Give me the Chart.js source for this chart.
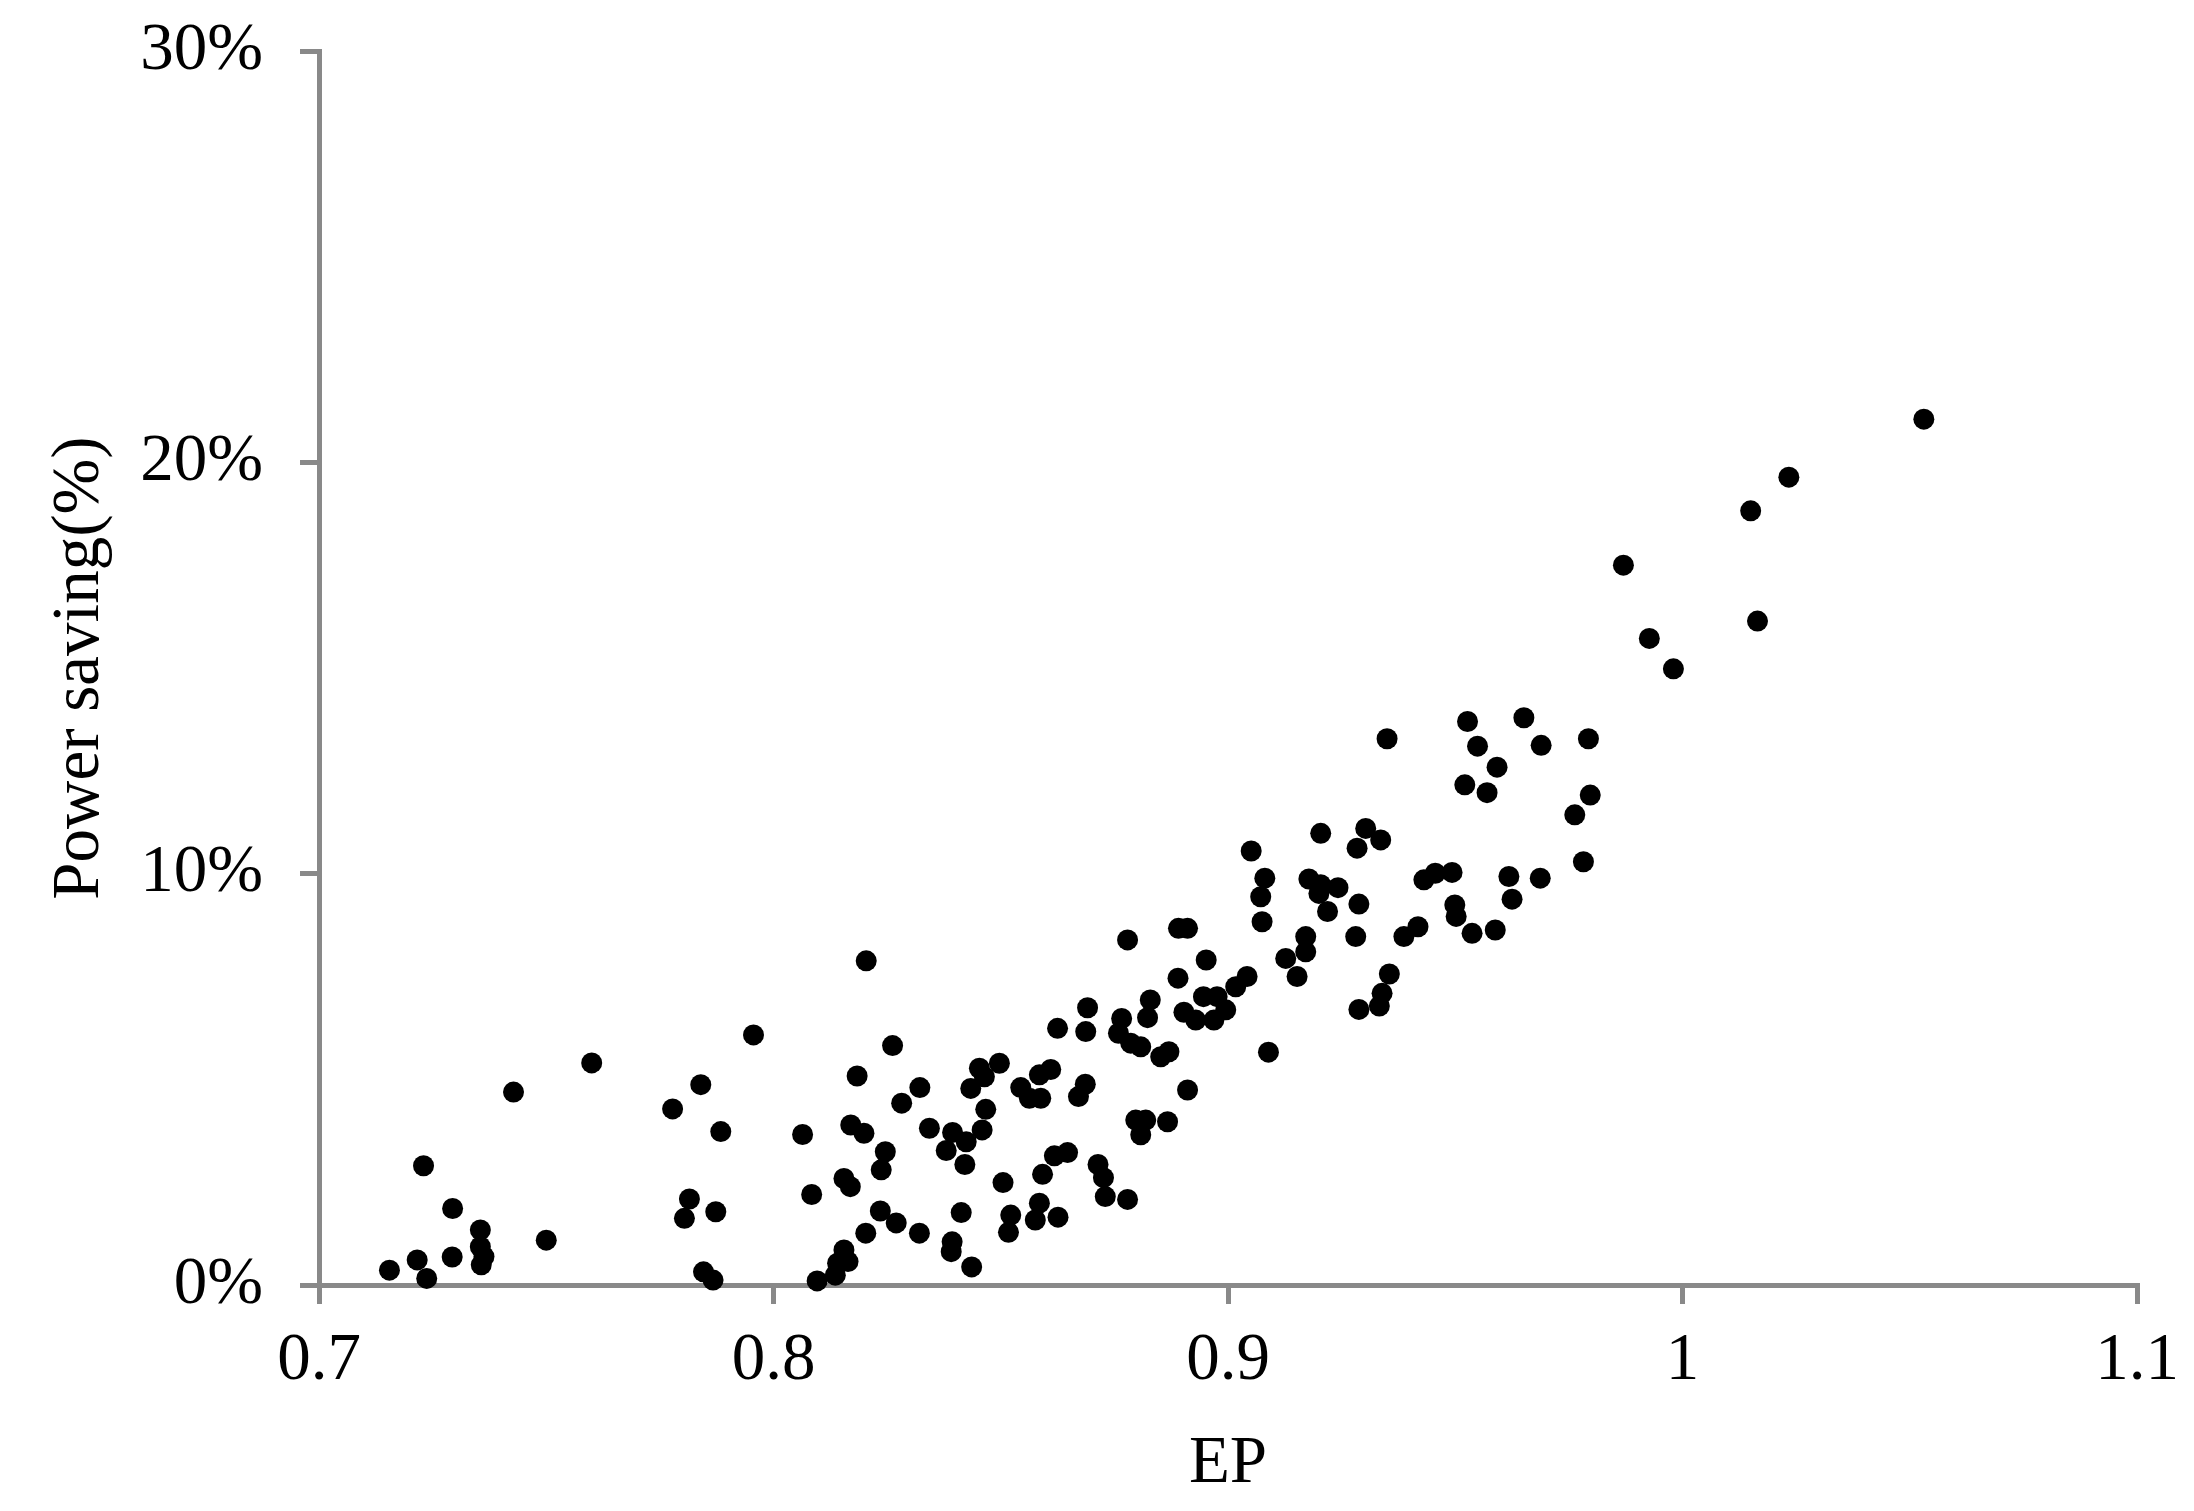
<!DOCTYPE html>
<html>
<head>
<meta charset="utf-8">
<title>Power saving vs EP</title>
<script src="https://cdn.jsdelivr.net/npm/chart.js@4.4.1/dist/chart.umd.min.js"></script>
<style>
  html, body { margin: 0; padding: 0; background: #fff; }
  canvas { display: block; }
</style>
</head>
<body>
<canvas id="chart" width="2194" height="1511"></canvas>
<script>
// EP (x) and power saving in % (y)
const ep = [
  0.7155, 0.7216, 0.7237, 0.7230, 0.7294, 0.7293, 0.7355, 0.7355, 0.7363, 0.7357,
  0.7428, 0.7500, 0.7600, 0.7778, 0.7840, 0.7884, 0.7956, 0.7815, 0.7804, 0.7873,
  0.7846, 0.7867,
  0.8064, 0.8084, 0.8096, 0.8136, 0.8155, 0.8164, 0.8141, 0.8184, 0.8170, 0.8199,
  0.8203, 0.8155, 0.8169,
  0.8204, 0.8262, 0.8322, 0.8282, 0.8246, 0.8237, 0.8235, 0.8270, 0.8321, 0.8413,
  0.8393, 0.8391, 0.8436, 0.8343, 0.8394, 0.8424, 0.8380, 0.8421, 0.8459, 0.8467,
  0.8434, 0.8453, 0.8497, 0.8464, 0.8505, 0.8522, 0.8517, 0.8585, 0.8576, 0.8626,
  0.8592, 0.8618, 0.8647, 0.8544, 0.8563, 0.8588, 0.8585, 0.8610, 0.8625, 0.8691,
  0.8687, 0.8671, 0.8686, 0.8714, 0.8726, 0.8730, 0.8779, 0.8779, 0.8766, 0.8759,
  0.8786, 0.8808, 0.8829, 0.8823, 0.8852, 0.8870, 0.8911, 0.8797, 0.8808, 0.8867,
  0.8819, 0.8891, 0.8911, 0.8890, 0.8952, 0.8946, 0.8976, 0.8995, 0.8903, 0.8929,
  0.8969, 0.9017, 0.9042, 0.9075, 0.9072, 0.9089, 0.9127, 0.9152, 0.9171, 0.9171,
  0.9521, 0.9570, 0.9797, 0.9763, 0.9782, 0.9204, 0.9303, 0.9336, 0.9284, 0.9051,
  0.9081, 0.9178, 0.9204, 0.9242, 0.9200, 0.9219, 0.9288, 0.9281, 0.9431, 0.9456,
  0.9493, 0.9618, 0.9687, 0.9625, 0.9499, 0.9502, 0.9537, 0.9588, 0.9387, 0.9418,
  0.9355, 0.9339, 0.9333, 0.9288,
  0.9350, 0.9527, 0.9651, 0.9549, 0.9689, 0.9793, 0.9592,
  1.0531, 1.0234, 1.0150, 0.9870, 1.0165, 0.9927, 0.9980
];

const saving = [
  0.36, 0.61, 0.16, 2.90, 1.86, 0.68, 1.34, 0.93, 0.69, 0.49,
  4.69, 1.09, 5.40, 4.28, 4.87, 3.73, 6.08, 2.09, 1.62, 1.78,
  0.32, 0.12,
  3.66, 2.20, 0.10, 0.24, 0.85, 0.57, 0.53, 5.08, 3.89, 3.69,
  1.26, 2.59, 2.39,
  7.88, 5.82, 4.80, 4.42, 3.24, 2.80, 1.80, 1.51, 1.26, 1.76,
  1.05, 0.81, 0.44, 3.81, 3.71, 3.48, 3.27, 2.93, 3.77, 4.27,
  4.78, 5.27, 5.39, 5.06, 2.49, 1.70, 1.28, 1.99, 1.58, 1.65,
  2.69, 3.14, 3.22, 4.80, 4.54, 4.54, 5.11, 5.24, 6.24, 6.74,
  6.16, 4.58, 4.88, 2.93, 2.61, 2.15, 2.08, 8.39, 6.48, 6.12,
  5.88, 5.79, 6.93, 6.50, 5.55, 5.67, 4.74, 4.01, 3.65, 3.97,
  4.01, 8.67, 8.67, 7.46, 7.90, 7.01, 7.01, 6.69, 6.63, 6.44,
  6.44, 7.25, 7.50, 8.83, 9.44, 5.66, 7.94, 7.50, 8.47, 8.10,
  12.16, 11.97, 11.91, 11.43, 10.29, 10.98, 11.10, 10.82, 10.62, 10.55,
  9.89, 9.87, 9.73, 9.66, 9.52, 9.08, 9.26, 8.47, 9.85, 10.01,
  10.03, 9.93, 9.89, 9.38, 9.24, 8.96, 8.55, 8.63, 8.47, 8.71,
  7.56, 7.09, 6.78, 6.70,
  13.28, 13.70, 13.79, 13.10, 13.12, 13.28, 12.59,
  21.05, 19.64, 18.82, 17.50, 16.14, 15.72, 14.98
];

const xTitle = 'EP';
const yTitle = 'Power saving(%)';

const axisGrey = '#898989';
const font = { family: "'Liberation Serif', 'Times New Roman', serif", size: 67 };

const points = ep.map((x, i) => ({ x: x, y: saving[i] }));

function drawChart() {
  new Chart(document.getElementById('chart'), {
    type: 'scatter',
    data: {
      datasets: [
        {
          data: points,
          backgroundColor: '#000',
          borderWidth: 0,
          pointRadius: 10.5,
          pointHoverRadius: 10.5,
          clip: false,
        },
      ],
    },
    options: {
      responsive: false,
      animation: false,
      devicePixelRatio: 1,
      layout: { padding: { top: 51, right: 57, left: 0, bottom: 0 } },
      plugins: {
        legend: { display: false },
        tooltip: { enabled: false },
      },
      scales: {
        x: {
          type: 'linear',
          min: 0.7,
          max: 1.1,
          afterFit: (scale) => {
            scale.height = 226;
            scale.paddingLeft = 0;
            scale.paddingRight = 0;
          },
          ticks: {
            stepSize: 0.1,
            autoSkip: false,
            maxRotation: 0,
            color: '#000',
            font: font,
            padding: 17,
            callback: (v) => String(+v.toFixed(1)),
          },
          grid: {
            drawOnChartArea: false,
            drawTicks: true,
            tickLength: 19,
            color: axisGrey,
            lineWidth: 5,
          },
          border: { display: true, color: axisGrey, width: 5 },
          title: {
            display: true,
            text: xTitle,
            color: '#000',
            font: font,
            padding: { top: 0, bottom: 6 },
          },
        },
        y: {
          type: 'linear',
          min: 0,
          max: 30,
          afterFit: (scale) => {
            scale.width = 319;
            scale.paddingTop = 0;
            scale.paddingBottom = 0;
          },
          ticks: {
            stepSize: 10,
            color: '#000',
            font: font,
            padding: 37,
            callback: (v) => Math.round(v) + '%',
          },
          grid: {
            drawOnChartArea: false,
            drawTicks: true,
            tickLength: 19,
            color: axisGrey,
            lineWidth: 5,
          },
          border: { display: true, color: axisGrey, width: 5 },
          title: {
            display: true,
            text: yTitle,
            color: '#000',
            font: font,
            padding: { top: 40, bottom: 0 },
          },
        },
      },
    },
  });
}

// make sure the serif face is ready before the single (non-animated) draw
document.fonts.load("67px 'Liberation Serif'").then(drawChart, drawChart);
</script>
</body>
</html>
